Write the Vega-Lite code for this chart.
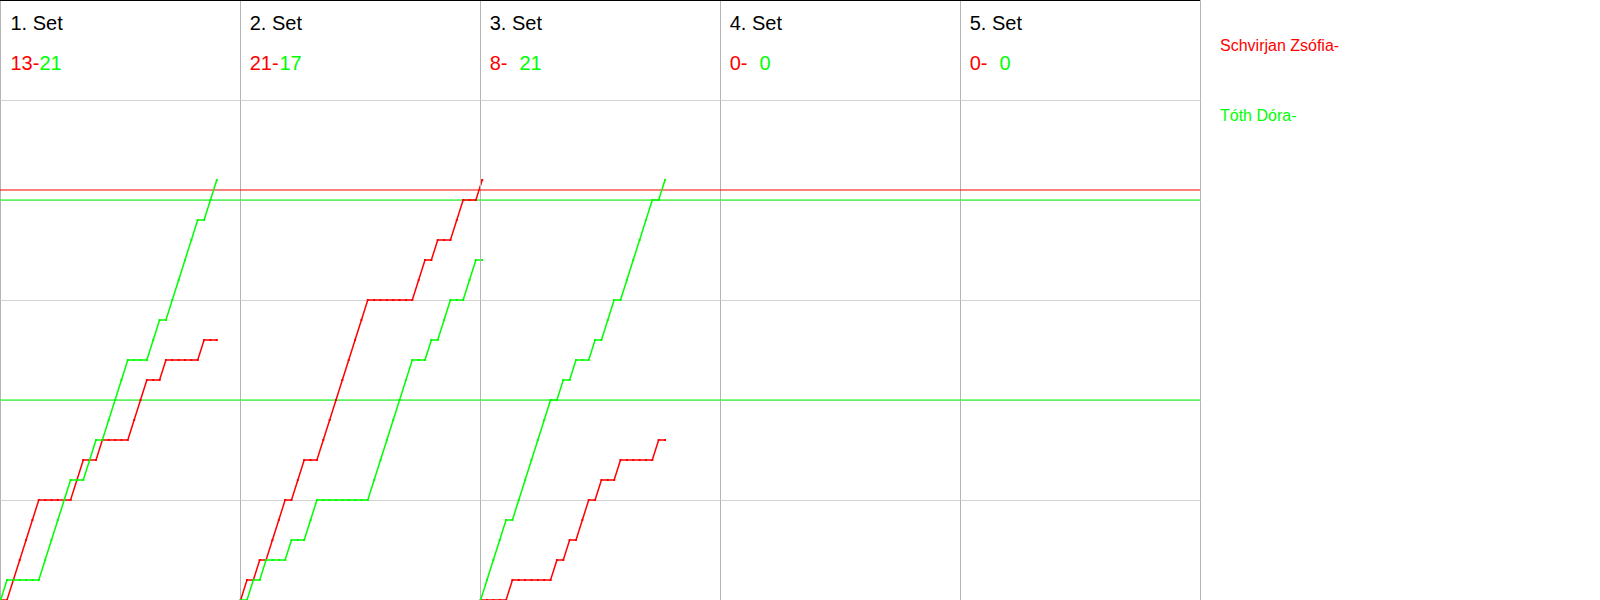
{
  "$schema": "https://vega.github.io/schema/vega-lite/v6.json",
  "padding": {"left": -3, "top": -2, "right": 0, "bottom": 0},
  "spacing": 0,
  "bounds": "flush",
  "background": "#ffffff",
  "config": {
    "font": "Liberation Sans",
    "view": {"stroke": "#b4b4b4", "strokeWidth": 1}
  },
  "resolve": {"scale": {"color": "shared", "x": "independent", "y": "independent"}, "legend": {"color": "shared"}},
  "datasets": {
    "sets": [
      {"set": 1, "name": "1. Set", "a": "13-", "b": "21"},
      {"set": 2, "name": "2. Set", "a": "21-", "b": "17"},
      {"set": 3, "name": "3. Set", "a": "8-", "b": "21"},
      {"set": 4, "name": "4. Set", "a": "0-", "b": "0"},
      {"set": 5, "name": "5. Set", "a": "0-", "b": "0"}
    ],
    "refs": [
      {"player": "Schvirjan Zsófia", "level": 20.5},
      {"player": "Tóth Dóra", "level": 20},
      {"player": "Tóth Dóra", "level": 10}
    ],
    "rallies": [
      {"set":1,"rally":0,"Schvirjan Zsófia":0,"Tóth Dóra":0},
      {"set":1,"rally":1,"Schvirjan Zsófia":0,"Tóth Dóra":1},
      {"set":1,"rally":2,"Schvirjan Zsófia":1,"Tóth Dóra":1},
      {"set":1,"rally":3,"Schvirjan Zsófia":2,"Tóth Dóra":1},
      {"set":1,"rally":4,"Schvirjan Zsófia":3,"Tóth Dóra":1},
      {"set":1,"rally":5,"Schvirjan Zsófia":4,"Tóth Dóra":1},
      {"set":1,"rally":6,"Schvirjan Zsófia":5,"Tóth Dóra":1},
      {"set":1,"rally":7,"Schvirjan Zsófia":5,"Tóth Dóra":2},
      {"set":1,"rally":8,"Schvirjan Zsófia":5,"Tóth Dóra":3},
      {"set":1,"rally":9,"Schvirjan Zsófia":5,"Tóth Dóra":4},
      {"set":1,"rally":10,"Schvirjan Zsófia":5,"Tóth Dóra":5},
      {"set":1,"rally":11,"Schvirjan Zsófia":5,"Tóth Dóra":6},
      {"set":1,"rally":12,"Schvirjan Zsófia":6,"Tóth Dóra":6},
      {"set":1,"rally":13,"Schvirjan Zsófia":7,"Tóth Dóra":6},
      {"set":1,"rally":14,"Schvirjan Zsófia":7,"Tóth Dóra":7},
      {"set":1,"rally":15,"Schvirjan Zsófia":7,"Tóth Dóra":8},
      {"set":1,"rally":16,"Schvirjan Zsófia":8,"Tóth Dóra":8},
      {"set":1,"rally":17,"Schvirjan Zsófia":8,"Tóth Dóra":9},
      {"set":1,"rally":18,"Schvirjan Zsófia":8,"Tóth Dóra":10},
      {"set":1,"rally":19,"Schvirjan Zsófia":8,"Tóth Dóra":11},
      {"set":1,"rally":20,"Schvirjan Zsófia":8,"Tóth Dóra":12},
      {"set":1,"rally":21,"Schvirjan Zsófia":9,"Tóth Dóra":12},
      {"set":1,"rally":22,"Schvirjan Zsófia":10,"Tóth Dóra":12},
      {"set":1,"rally":23,"Schvirjan Zsófia":11,"Tóth Dóra":12},
      {"set":1,"rally":24,"Schvirjan Zsófia":11,"Tóth Dóra":13},
      {"set":1,"rally":25,"Schvirjan Zsófia":11,"Tóth Dóra":14},
      {"set":1,"rally":26,"Schvirjan Zsófia":12,"Tóth Dóra":14},
      {"set":1,"rally":27,"Schvirjan Zsófia":12,"Tóth Dóra":15},
      {"set":1,"rally":28,"Schvirjan Zsófia":12,"Tóth Dóra":16},
      {"set":1,"rally":29,"Schvirjan Zsófia":12,"Tóth Dóra":17},
      {"set":1,"rally":30,"Schvirjan Zsófia":12,"Tóth Dóra":18},
      {"set":1,"rally":31,"Schvirjan Zsófia":12,"Tóth Dóra":19},
      {"set":1,"rally":32,"Schvirjan Zsófia":13,"Tóth Dóra":19},
      {"set":1,"rally":33,"Schvirjan Zsófia":13,"Tóth Dóra":20},
      {"set":1,"rally":34,"Schvirjan Zsófia":13,"Tóth Dóra":21},
      {"set":2,"rally":0,"Schvirjan Zsófia":0,"Tóth Dóra":0},
      {"set":2,"rally":1,"Schvirjan Zsófia":1,"Tóth Dóra":0},
      {"set":2,"rally":2,"Schvirjan Zsófia":1,"Tóth Dóra":1},
      {"set":2,"rally":3,"Schvirjan Zsófia":2,"Tóth Dóra":1},
      {"set":2,"rally":4,"Schvirjan Zsófia":2,"Tóth Dóra":2},
      {"set":2,"rally":5,"Schvirjan Zsófia":3,"Tóth Dóra":2},
      {"set":2,"rally":6,"Schvirjan Zsófia":4,"Tóth Dóra":2},
      {"set":2,"rally":7,"Schvirjan Zsófia":5,"Tóth Dóra":2},
      {"set":2,"rally":8,"Schvirjan Zsófia":5,"Tóth Dóra":3},
      {"set":2,"rally":9,"Schvirjan Zsófia":6,"Tóth Dóra":3},
      {"set":2,"rally":10,"Schvirjan Zsófia":7,"Tóth Dóra":3},
      {"set":2,"rally":11,"Schvirjan Zsófia":7,"Tóth Dóra":4},
      {"set":2,"rally":12,"Schvirjan Zsófia":7,"Tóth Dóra":5},
      {"set":2,"rally":13,"Schvirjan Zsófia":8,"Tóth Dóra":5},
      {"set":2,"rally":14,"Schvirjan Zsófia":9,"Tóth Dóra":5},
      {"set":2,"rally":15,"Schvirjan Zsófia":10,"Tóth Dóra":5},
      {"set":2,"rally":16,"Schvirjan Zsófia":11,"Tóth Dóra":5},
      {"set":2,"rally":17,"Schvirjan Zsófia":12,"Tóth Dóra":5},
      {"set":2,"rally":18,"Schvirjan Zsófia":13,"Tóth Dóra":5},
      {"set":2,"rally":19,"Schvirjan Zsófia":14,"Tóth Dóra":5},
      {"set":2,"rally":20,"Schvirjan Zsófia":15,"Tóth Dóra":5},
      {"set":2,"rally":21,"Schvirjan Zsófia":15,"Tóth Dóra":6},
      {"set":2,"rally":22,"Schvirjan Zsófia":15,"Tóth Dóra":7},
      {"set":2,"rally":23,"Schvirjan Zsófia":15,"Tóth Dóra":8},
      {"set":2,"rally":24,"Schvirjan Zsófia":15,"Tóth Dóra":9},
      {"set":2,"rally":25,"Schvirjan Zsófia":15,"Tóth Dóra":10},
      {"set":2,"rally":26,"Schvirjan Zsófia":15,"Tóth Dóra":11},
      {"set":2,"rally":27,"Schvirjan Zsófia":15,"Tóth Dóra":12},
      {"set":2,"rally":28,"Schvirjan Zsófia":16,"Tóth Dóra":12},
      {"set":2,"rally":29,"Schvirjan Zsófia":17,"Tóth Dóra":12},
      {"set":2,"rally":30,"Schvirjan Zsófia":17,"Tóth Dóra":13},
      {"set":2,"rally":31,"Schvirjan Zsófia":18,"Tóth Dóra":13},
      {"set":2,"rally":32,"Schvirjan Zsófia":18,"Tóth Dóra":14},
      {"set":2,"rally":33,"Schvirjan Zsófia":18,"Tóth Dóra":15},
      {"set":2,"rally":34,"Schvirjan Zsófia":19,"Tóth Dóra":15},
      {"set":2,"rally":35,"Schvirjan Zsófia":20,"Tóth Dóra":15},
      {"set":2,"rally":36,"Schvirjan Zsófia":20,"Tóth Dóra":16},
      {"set":2,"rally":37,"Schvirjan Zsófia":20,"Tóth Dóra":17},
      {"set":2,"rally":38,"Schvirjan Zsófia":21,"Tóth Dóra":17},
      {"set":3,"rally":0,"Schvirjan Zsófia":0,"Tóth Dóra":0},
      {"set":3,"rally":1,"Schvirjan Zsófia":0,"Tóth Dóra":1},
      {"set":3,"rally":2,"Schvirjan Zsófia":0,"Tóth Dóra":2},
      {"set":3,"rally":3,"Schvirjan Zsófia":0,"Tóth Dóra":3},
      {"set":3,"rally":4,"Schvirjan Zsófia":0,"Tóth Dóra":4},
      {"set":3,"rally":5,"Schvirjan Zsófia":1,"Tóth Dóra":4},
      {"set":3,"rally":6,"Schvirjan Zsófia":1,"Tóth Dóra":5},
      {"set":3,"rally":7,"Schvirjan Zsófia":1,"Tóth Dóra":6},
      {"set":3,"rally":8,"Schvirjan Zsófia":1,"Tóth Dóra":7},
      {"set":3,"rally":9,"Schvirjan Zsófia":1,"Tóth Dóra":8},
      {"set":3,"rally":10,"Schvirjan Zsófia":1,"Tóth Dóra":9},
      {"set":3,"rally":11,"Schvirjan Zsófia":1,"Tóth Dóra":10},
      {"set":3,"rally":12,"Schvirjan Zsófia":2,"Tóth Dóra":10},
      {"set":3,"rally":13,"Schvirjan Zsófia":2,"Tóth Dóra":11},
      {"set":3,"rally":14,"Schvirjan Zsófia":3,"Tóth Dóra":11},
      {"set":3,"rally":15,"Schvirjan Zsófia":3,"Tóth Dóra":12},
      {"set":3,"rally":16,"Schvirjan Zsófia":4,"Tóth Dóra":12},
      {"set":3,"rally":17,"Schvirjan Zsófia":5,"Tóth Dóra":12},
      {"set":3,"rally":18,"Schvirjan Zsófia":5,"Tóth Dóra":13},
      {"set":3,"rally":19,"Schvirjan Zsófia":6,"Tóth Dóra":13},
      {"set":3,"rally":20,"Schvirjan Zsófia":6,"Tóth Dóra":14},
      {"set":3,"rally":21,"Schvirjan Zsófia":6,"Tóth Dóra":15},
      {"set":3,"rally":22,"Schvirjan Zsófia":7,"Tóth Dóra":15},
      {"set":3,"rally":23,"Schvirjan Zsófia":7,"Tóth Dóra":16},
      {"set":3,"rally":24,"Schvirjan Zsófia":7,"Tóth Dóra":17},
      {"set":3,"rally":25,"Schvirjan Zsófia":7,"Tóth Dóra":18},
      {"set":3,"rally":26,"Schvirjan Zsófia":7,"Tóth Dóra":19},
      {"set":3,"rally":27,"Schvirjan Zsófia":7,"Tóth Dóra":20},
      {"set":3,"rally":28,"Schvirjan Zsófia":8,"Tóth Dóra":20},
      {"set":3,"rally":29,"Schvirjan Zsófia":8,"Tóth Dóra":21}
    ]
  },
  "hconcat": [
    {
      "width": 240, "height": 600,
      "layer": [
        {"data": {"name": "refs"}, "mark": {"type": "rule", "strokeWidth": 1.2},
         "encoding": {
           "y": {"field": "level", "type": "quantitative", "scale": {"domain": [0, 30], "nice": false}, "axis": {"values": [5, 10, 15, 20, 25], "grid": true, "gridColor": "#d3d3d3", "labels": false, "ticks": false, "domain": false, "title": null}},
           "color": {"field": "player", "type": "nominal", "scale": {"domain": ["Schvirjan Zsófia", "Tóth Dóra"], "range": ["#ff0000", "#00ff00"]},
             "legend": {"orient": "none", "legendX": 1200, "legendY": 38, "title": null, "padding": 0, "symbolSize": 0, "symbolStrokeWidth": 0, "symbolOpacity": 0, "labelFontSize": 16, "labelFont": "Liberation Sans", "labelOffset": 4, "rowPadding": 54, "labelLimit": 400, "labelExpr": "datum.label + '-'", "direction": "vertical", "encode": {"labels": {"update": {"fill": {"scale": "color", "field": "value"}}}}}}
         }},
        {"data": {"name": "sets"}, "transform": [{"filter": "datum.set == 1"}], "mark": {"type": "rule", "color": "#000000", "strokeWidth": 2}, "encoding": {"y": {"datum": 30, "type": "quantitative"}}},
        {"data": {"name": "rallies"}, "transform": [{"filter": "datum.set == 1"}, {"fold": ["Schvirjan Zsófia", "Tóth Dóra"], "as": ["player", "score"]}],
         "mark": {"type": "line", "strokeWidth": 1.5},
         "encoding": {"x": {"field": "rally", "type": "quantitative", "scale": {"domain": [-0.1, 37.65], "nice": false, "zero": false}, "axis": null}, "y": {"field": "score", "type": "quantitative"}, "color": {"field": "player", "type": "nominal"}}},
        {"data": {"name": "rallies"}, "transform": [{"filter": "datum.set == 1"}, {"fold": ["Schvirjan Zsófia", "Tóth Dóra"], "as": ["player", "score"]}],
         "mark": {"type": "point", "shape": "square", "size": 4, "filled": true, "opacity": 1},
         "encoding": {"x": {"field": "rally", "type": "quantitative"}, "y": {"field": "score", "type": "quantitative"}, "color": {"field": "player", "type": "nominal"}}},
        {"data": {"name": "sets"}, "transform": [{"filter": "datum.set == 1"}], "mark": {"type": "text", "align": "left", "baseline": "alphabetic", "fontSize": 20, "color": "#000000"},
         "encoding": {"x": {"datum": 1.55, "type": "quantitative"}, "y": {"datum": 28.48, "type": "quantitative"}, "text": {"field": "name"}}},
        {"data": {"name": "sets"}, "transform": [{"filter": "datum.set == 1"}], "mark": {"type": "text", "align": "left", "baseline": "alphabetic", "fontSize": 20},
         "encoding": {"x": {"datum": 1.55, "type": "quantitative"}, "y": {"datum": 26.48, "type": "quantitative"}, "text": {"field": "a"}, "color": {"datum": "Schvirjan Zsófia"}}},
        {"data": {"name": "sets"}, "transform": [{"filter": "datum.set == 1"}], "mark": {"type": "text", "align": "left", "baseline": "alphabetic", "fontSize": 20},
         "encoding": {"x": {"datum": 6.11, "type": "quantitative"}, "y": {"datum": 26.48, "type": "quantitative"}, "text": {"field": "b"}, "color": {"datum": "Tóth Dóra"}}}
      ]
    },
    {
      "width": 240, "height": 600,
      "layer": [
        {"data": {"name": "refs"}, "mark": {"type": "rule", "strokeWidth": 1.2},
         "encoding": {
           "y": {"field": "level", "type": "quantitative", "scale": {"domain": [0, 30], "nice": false}, "axis": {"values": [5, 10, 15, 20, 25], "grid": true, "gridColor": "#d3d3d3", "labels": false, "ticks": false, "domain": false, "title": null}},
           "color": {"field": "player", "type": "nominal"}
         }},
        {"data": {"name": "sets"}, "transform": [{"filter": "datum.set == 2"}], "mark": {"type": "rule", "color": "#000000", "strokeWidth": 2}, "encoding": {"y": {"datum": 30, "type": "quantitative"}}},
        {"data": {"name": "rallies"}, "transform": [{"filter": "datum.set == 2"}, {"fold": ["Schvirjan Zsófia", "Tóth Dóra"], "as": ["player", "score"]}],
         "mark": {"type": "line", "strokeWidth": 1.5},
         "encoding": {"x": {"field": "rally", "type": "quantitative", "scale": {"domain": [-0.1, 37.65], "nice": false, "zero": false}, "axis": null}, "y": {"field": "score", "type": "quantitative"}, "color": {"field": "player", "type": "nominal"}}},
        {"data": {"name": "rallies"}, "transform": [{"filter": "datum.set == 2"}, {"fold": ["Schvirjan Zsófia", "Tóth Dóra"], "as": ["player", "score"]}],
         "mark": {"type": "point", "shape": "square", "size": 4, "filled": true, "opacity": 1},
         "encoding": {"x": {"field": "rally", "type": "quantitative"}, "y": {"field": "score", "type": "quantitative"}, "color": {"field": "player", "type": "nominal"}}},
        {"data": {"name": "sets"}, "transform": [{"filter": "datum.set == 2"}], "mark": {"type": "text", "align": "left", "baseline": "alphabetic", "fontSize": 20, "color": "#000000"},
         "encoding": {"x": {"datum": 1.43, "type": "quantitative"}, "y": {"datum": 28.48, "type": "quantitative"}, "text": {"field": "name"}}},
        {"data": {"name": "sets"}, "transform": [{"filter": "datum.set == 2"}], "mark": {"type": "text", "align": "left", "baseline": "alphabetic", "fontSize": 20},
         "encoding": {"x": {"datum": 1.43, "type": "quantitative"}, "y": {"datum": 26.48, "type": "quantitative"}, "text": {"field": "a"}, "color": {"datum": "Schvirjan Zsófia"}}},
        {"data": {"name": "sets"}, "transform": [{"filter": "datum.set == 2"}], "mark": {"type": "text", "align": "left", "baseline": "alphabetic", "fontSize": 20},
         "encoding": {"x": {"datum": 6.11, "type": "quantitative"}, "y": {"datum": 26.48, "type": "quantitative"}, "text": {"field": "b"}, "color": {"datum": "Tóth Dóra"}}}
      ]
    },
    {
      "width": 240, "height": 600,
      "layer": [
        {"data": {"name": "refs"}, "mark": {"type": "rule", "strokeWidth": 1.2},
         "encoding": {
           "y": {"field": "level", "type": "quantitative", "scale": {"domain": [0, 30], "nice": false}, "axis": {"values": [5, 10, 15, 20, 25], "grid": true, "gridColor": "#d3d3d3", "labels": false, "ticks": false, "domain": false, "title": null}},
           "color": {"field": "player", "type": "nominal"}
         }},
        {"data": {"name": "sets"}, "transform": [{"filter": "datum.set == 3"}], "mark": {"type": "rule", "color": "#000000", "strokeWidth": 2}, "encoding": {"y": {"datum": 30, "type": "quantitative"}}},
        {"data": {"name": "rallies"}, "transform": [{"filter": "datum.set == 3"}, {"fold": ["Schvirjan Zsófia", "Tóth Dóra"], "as": ["player", "score"]}],
         "mark": {"type": "line", "strokeWidth": 1.5},
         "encoding": {"x": {"field": "rally", "type": "quantitative", "scale": {"domain": [-0.1, 37.65], "nice": false, "zero": false}, "axis": null}, "y": {"field": "score", "type": "quantitative"}, "color": {"field": "player", "type": "nominal"}}},
        {"data": {"name": "rallies"}, "transform": [{"filter": "datum.set == 3"}, {"fold": ["Schvirjan Zsófia", "Tóth Dóra"], "as": ["player", "score"]}],
         "mark": {"type": "point", "shape": "square", "size": 4, "filled": true, "opacity": 1},
         "encoding": {"x": {"field": "rally", "type": "quantitative"}, "y": {"field": "score", "type": "quantitative"}, "color": {"field": "player", "type": "nominal"}}},
        {"data": {"name": "sets"}, "transform": [{"filter": "datum.set == 3"}], "mark": {"type": "text", "align": "left", "baseline": "alphabetic", "fontSize": 20, "color": "#000000"},
         "encoding": {"x": {"datum": 1.43, "type": "quantitative"}, "y": {"datum": 28.48, "type": "quantitative"}, "text": {"field": "name"}}},
        {"data": {"name": "sets"}, "transform": [{"filter": "datum.set == 3"}], "mark": {"type": "text", "align": "left", "baseline": "alphabetic", "fontSize": 20},
         "encoding": {"x": {"datum": 1.43, "type": "quantitative"}, "y": {"datum": 26.48, "type": "quantitative"}, "text": {"field": "a"}, "color": {"datum": "Schvirjan Zsófia"}}},
        {"data": {"name": "sets"}, "transform": [{"filter": "datum.set == 3"}], "mark": {"type": "text", "align": "left", "baseline": "alphabetic", "fontSize": 20},
         "encoding": {"x": {"datum": 6.11, "type": "quantitative"}, "y": {"datum": 26.48, "type": "quantitative"}, "text": {"field": "b"}, "color": {"datum": "Tóth Dóra"}}}
      ]
    },
    {
      "width": 240, "height": 600,
      "layer": [
        {"data": {"name": "refs"}, "mark": {"type": "rule", "strokeWidth": 1.2},
         "encoding": {
           "y": {"field": "level", "type": "quantitative", "scale": {"domain": [0, 30], "nice": false}, "axis": {"values": [5, 10, 15, 20, 25], "grid": true, "gridColor": "#d3d3d3", "labels": false, "ticks": false, "domain": false, "title": null}},
           "color": {"field": "player", "type": "nominal"}
         }},
        {"data": {"name": "sets"}, "transform": [{"filter": "datum.set == 4"}], "mark": {"type": "rule", "color": "#000000", "strokeWidth": 2}, "encoding": {"y": {"datum": 30, "type": "quantitative"}}},
        {"data": {"name": "sets"}, "transform": [{"filter": "datum.set == 4"}], "mark": {"type": "text", "align": "left", "baseline": "alphabetic", "fontSize": 20, "color": "#000000"},
         "encoding": {"x": {"datum": 1.43, "type": "quantitative", "scale": {"domain": [-0.1, 37.65], "nice": false, "zero": false}, "axis": null}, "y": {"datum": 28.48, "type": "quantitative"}, "text": {"field": "name"}}},
        {"data": {"name": "sets"}, "transform": [{"filter": "datum.set == 4"}], "mark": {"type": "text", "align": "left", "baseline": "alphabetic", "fontSize": 20},
         "encoding": {"x": {"datum": 1.43, "type": "quantitative"}, "y": {"datum": 26.48, "type": "quantitative"}, "text": {"field": "a"}, "color": {"datum": "Schvirjan Zsófia"}}},
        {"data": {"name": "sets"}, "transform": [{"filter": "datum.set == 4"}], "mark": {"type": "text", "align": "left", "baseline": "alphabetic", "fontSize": 20},
         "encoding": {"x": {"datum": 6.11, "type": "quantitative"}, "y": {"datum": 26.48, "type": "quantitative"}, "text": {"field": "b"}, "color": {"datum": "Tóth Dóra"}}}
      ]
    },
    {
      "width": 240, "height": 600,
      "layer": [
        {"data": {"name": "refs"}, "mark": {"type": "rule", "strokeWidth": 1.2},
         "encoding": {
           "y": {"field": "level", "type": "quantitative", "scale": {"domain": [0, 30], "nice": false}, "axis": {"values": [5, 10, 15, 20, 25], "grid": true, "gridColor": "#d3d3d3", "labels": false, "ticks": false, "domain": false, "title": null}},
           "color": {"field": "player", "type": "nominal"}
         }},
        {"data": {"name": "sets"}, "transform": [{"filter": "datum.set == 5"}], "mark": {"type": "rule", "color": "#000000", "strokeWidth": 2}, "encoding": {"y": {"datum": 30, "type": "quantitative"}}},
        {"data": {"name": "sets"}, "transform": [{"filter": "datum.set == 5"}], "mark": {"type": "text", "align": "left", "baseline": "alphabetic", "fontSize": 20, "color": "#000000"},
         "encoding": {"x": {"datum": 1.43, "type": "quantitative", "scale": {"domain": [-0.1, 37.65], "nice": false, "zero": false}, "axis": null}, "y": {"datum": 28.48, "type": "quantitative"}, "text": {"field": "name"}}},
        {"data": {"name": "sets"}, "transform": [{"filter": "datum.set == 5"}], "mark": {"type": "text", "align": "left", "baseline": "alphabetic", "fontSize": 20},
         "encoding": {"x": {"datum": 1.43, "type": "quantitative"}, "y": {"datum": 26.48, "type": "quantitative"}, "text": {"field": "a"}, "color": {"datum": "Schvirjan Zsófia"}}},
        {"data": {"name": "sets"}, "transform": [{"filter": "datum.set == 5"}], "mark": {"type": "text", "align": "left", "baseline": "alphabetic", "fontSize": 20},
         "encoding": {"x": {"datum": 6.11, "type": "quantitative"}, "y": {"datum": 26.48, "type": "quantitative"}, "text": {"field": "b"}, "color": {"datum": "Tóth Dóra"}}}
      ]
    }
  ]
}
